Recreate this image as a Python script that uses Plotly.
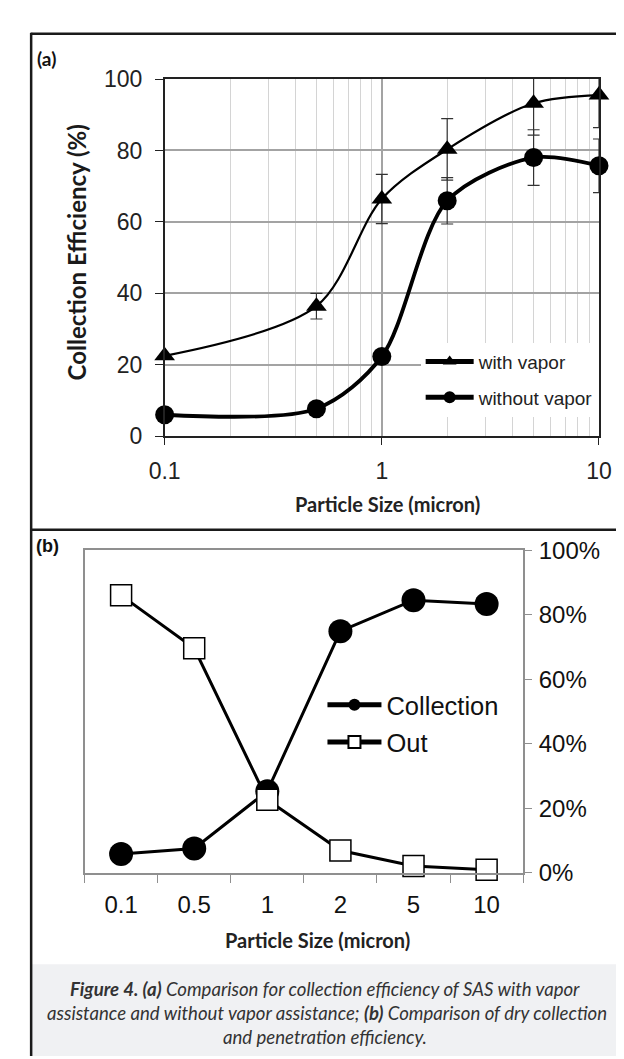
import plotly.graph_objects as go

W, H = 624, 1059

# ---------------- data ----------------
# Panel (a): collection efficiency vs particle size (log axis)
size_um = [0.1, 0.5, 1, 2, 5, 10]
with_vapor = [22.5, 36.4, 66.4, 80.3, 93.2, 95.5]
with_vapor_err = [0, 3.6, 6.9, 8.6, 8.9, 9.1]
without_vapor = [6.0, 7.7, 22.3, 65.9, 78.0, 75.7]
without_vapor_err = [0, 0, 0, 6.5, 7.8, 7.5]
a_yticks = [0, 20, 40, 60, 80, 100]
a_xticks = [0.1, 1, 10]
a_xticktext = ["0.1", "1", "10"]
a_minor = [0.2, 0.3, 0.4, 0.5, 0.6, 0.7, 0.8, 0.9, 2, 3, 4, 5, 6, 7, 8, 9]

# Panel (b): collection vs out (penetration), categorical sizes
size_cat = ["0.1", "0.5", "1", "2", "5", "10"]
collection = [5.8, 7.5, 25.3, 74.9, 84.5, 83.3]
out = [86.0, 69.6, 22.6, 6.9, 2.1, 0.9]
b_yticks = [0, 20, 40, 60, 80, 100]
b_yticktext = ["0%", "20%", "40%", "60%", "80%", "100%"]


def px(x):
    return x / W


def py(y):
    return 1 - y / H


TICKFONT = "Liberation Sans, Arial, sans-serif"
TITLEFONT = "Lato, Calibri, sans-serif"

fig = go.Figure()

# ---------------- panel (a) ----------------
fig.add_trace(go.Scatter(
    x=size_um, y=with_vapor, name="with vapor", mode="lines+markers",
    line=dict(color="black", width=2.2, shape="spline", smoothing=0.9),
    marker=dict(symbol="triangle-up", size=18, color="black"),
    error_y=dict(type="data", array=with_vapor_err, color="#333333",
                 thickness=1.2, width=6),
    xaxis="x", yaxis="y", legend="legend", legendgroup="a1",
    cliponaxis=False,
))
fig.add_trace(go.Scatter(
    x=size_um, y=without_vapor, name="without vapor", mode="lines+markers",
    line=dict(color="black", width=3.8, shape="spline", smoothing=0.85),
    marker=dict(symbol="circle", size=19, color="black"),
    error_y=dict(type="data", array=without_vapor_err, color="#333333",
                 thickness=1.2, width=6),
    xaxis="x", yaxis="y", legend="legend", legendgroup="a2",
    cliponaxis=False,
))

# ---------------- panel (b) ----------------
fig.add_trace(go.Scatter(
    x=size_cat, y=collection, name="Collection", mode="lines+markers",
    line=dict(color="black", width=3),
    marker=dict(symbol="circle", size=24, color="black"),
    xaxis="x2", yaxis="y2", legend="legend2", legendgroup="b1",
    cliponaxis=False,
))
fig.add_trace(go.Scatter(
    x=size_cat, y=out, name="Out", mode="lines+markers",
    line=dict(color="black", width=3),
    marker=dict(symbol="square", size=21, color="white",
                line=dict(color="black", width=1.5)),
    xaxis="x2", yaxis="y2", legend="legend2", legendgroup="b2",
    cliponaxis=False,
))

fig.update_layout(
    width=W, height=H,
    margin=dict(l=0, r=0, t=0, b=0),
    paper_bgcolor="white", plot_bgcolor="white",
    xaxis=dict(
        type="log", domain=[px(147.5), px(603)], range=[-1, 1],
        anchor="y", tickvals=a_xticks, ticktext=a_xticktext,
        ticks="outside", ticklen=7, tickcolor="#222", tickwidth=1.3,
        showline=True, linecolor="#222", linewidth=1.5, mirror=True,
        showgrid=True, gridcolor="#a3a3a3", gridwidth=1.5,
        minor=dict(tickvals=a_minor, showgrid=True, gridcolor="#d4d4d4",
                   gridwidth=1.2, ticks=""),
        tickfont=dict(family=TICKFONT, size=23, color="#222"),
        zeroline=False, ticklabelstandoff=6,
    ),
    yaxis=dict(
        domain=[py(425), py(58.5)], range=[0, 100], anchor="x",
        tickvals=a_yticks, ticks="outside", ticklen=8, tickcolor="#222",
        tickwidth=1.3, showline=True, linecolor="#222", linewidth=1.5,
        mirror=True, showgrid=True, gridcolor="#a3a3a3", gridwidth=1.5,
        tickfont=dict(family=TICKFONT, size=23, color="#222"),
        zeroline=False, ticklabelstandoff=8,
    ),
    xaxis2=dict(
        type="category", domain=[px(63.5), px(523.5)], range=[-0.5, 5.5],
        anchor="y2", tickson="boundaries", ticks="outside", ticklen=9,
        tickcolor="#8f8f8f", tickwidth=1.3,
        showline=True, linecolor="#8f8f8f", linewidth=1.5, mirror=True,
        showgrid=False, zeroline=False,
        tickfont=dict(family=TICKFONT, size=24, color="#111"),
        ticklabelstandoff=10,
    ),
    yaxis2=dict(
        domain=[py(873), py(542)], range=[0, 100], anchor="x2", side="right",
        tickmode="array", tickvals=b_yticks, ticktext=b_yticktext,
        ticks="outside", ticklen=7,
        tickcolor="#8f8f8f", tickwidth=1.3,
        showline=True, linecolor="#8f8f8f", linewidth=1.5, mirror=True,
        showgrid=False, zeroline=False,
        tickfont=dict(family=TICKFONT, size=24, color="#111"),
        ticklabelstandoff=2,
    ),
    legend=dict(
        x=px(416), y=py(329), xanchor="left", yanchor="top",
        bgcolor="white", borderwidth=0, itemwidth=48,
        traceorder="grouped", tracegroupgap=8, itemsizing="constant",
        font=dict(family=TICKFONT, size=19, color="#222"),
    ),
    legend2=dict(
        x=px(313), y=py(677), xanchor="left", yanchor="top",
        bgcolor="rgba(255,255,255,0)", borderwidth=0, itemwidth=54,
        traceorder="grouped", tracegroupgap=1, itemsizing="constant",
        font=dict(family=TICKFONT, size=25.5, color="#111"),
    ),
    showlegend=True,
)

# ---------------- frame, divider, caption background ----------------
BORDER = "#1a1a1a"
shapes = [
    dict(type="rect", xref="paper", yref="paper", x0=px(8), x1=1.01,
         y0=py(H + 2), y1=py(967), fillcolor="#f0f1f3", line=dict(width=0),
         layer="below"),
    dict(type="line", xref="paper", yref="paper", x0=px(7.5), x1=1.01,
         y0=py(12), y1=py(12), line=dict(color=BORDER, width=2.5)),
    dict(type="line", xref="paper", yref="paper", x0=px(7.5), x1=1.01,
         y0=py(521), y1=py(521), line=dict(color=BORDER, width=2.5)),
    dict(type="line", xref="paper", yref="paper", x0=px(7.5), x1=px(7.5),
         y0=py(11), y1=py(H + 2), line=dict(color=BORDER, width=2.5)),
]
fig.update_layout(shapes=shapes)

# ---------------- texts ----------------
ann = [
    dict(text="<b>(a)</b>", x=px(12), y=py(37), xanchor="left", yanchor="middle",
         font=dict(family=TITLEFONT, size=19, color="#111")),
    dict(text="<b>(b)</b>", x=px(11), y=py(538), xanchor="left", yanchor="middle",
         font=dict(family=TICKFONT, size=18, color="#111")),
    dict(text="<b>Collection Efficiency (%)</b>", x=px(56), y=py(236),
         xanchor="center", yanchor="middle", textangle=-90,
         font=dict(family=TITLEFONT, size=24, color="#1a1a1a")),
    dict(text="<b>Particle Size (micron)</b>", x=px(381), y=py(495),
         xanchor="center", yanchor="middle",
         font=dict(family=TITLEFONT, size=20, color="#222")),
    dict(text="<b>Particle Size (micron)</b>", x=px(308), y=py(942),
         xanchor="center", yanchor="middle",
         font=dict(family=TITLEFONT, size=20, color="#222")),
    dict(text="<b><i>Figure 4. (a)</i></b><i> Comparison for collection efficiency of SAS with vapor</i>",
         x=px(316), y=py(992), xanchor="center", yanchor="middle",
         font=dict(family=TITLEFONT, size=18.6, color="#333")),
    dict(text="<i>assistance and without vapor assistance; </i><b><i>(b)</i></b><i> Comparison of dry collection</i>",
         x=px(318), y=py(1017), xanchor="center", yanchor="middle",
         font=dict(family=TITLEFONT, size=18.6, color="#333")),
    dict(text="<i>and penetration efficiency.</i>",
         x=px(316), y=py(1042), xanchor="center", yanchor="middle",
         font=dict(family=TITLEFONT, size=18.6, color="#333")),
]
for a in ann:
    a.update(xref="paper", yref="paper", showarrow=False)
fig.update_layout(annotations=ann)

fig.write_html("out.html")
